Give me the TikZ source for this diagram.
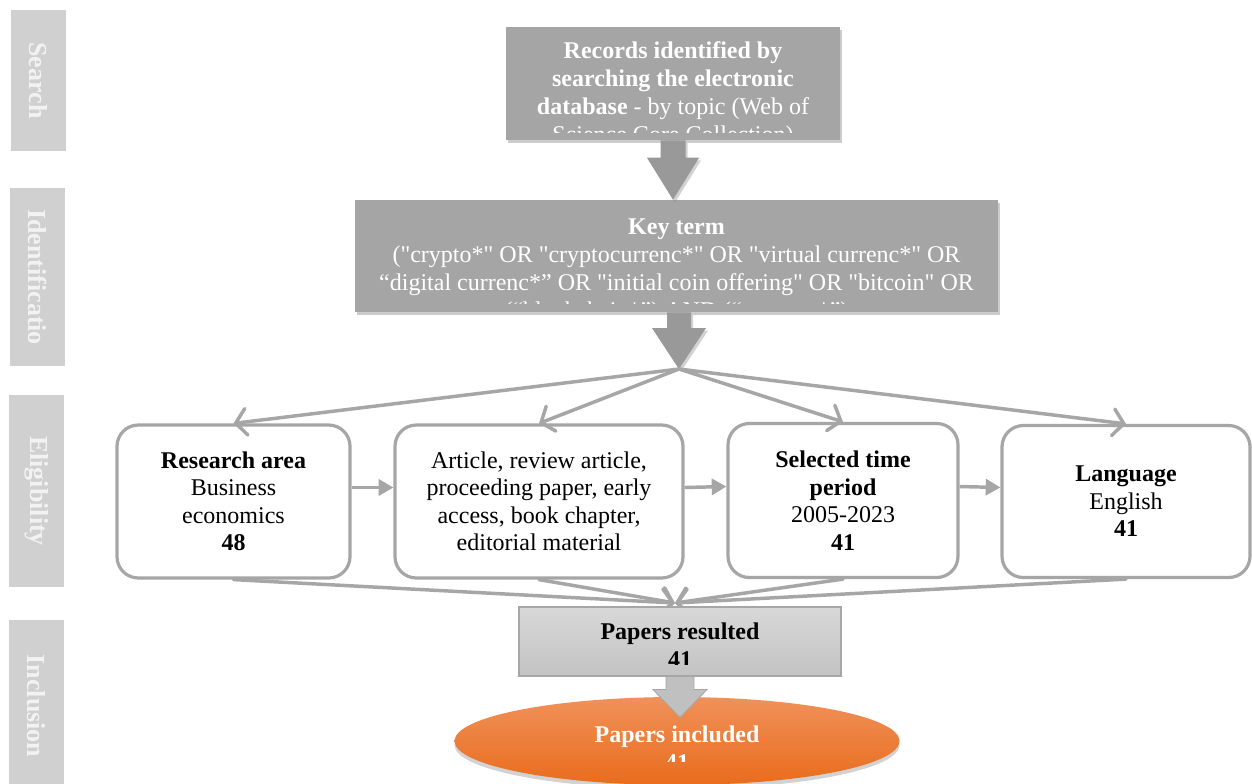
\documentclass[tikz,border=0pt]{standalone}
\usepackage{fontspec}
\setmainfont{Liberation Serif}
\usetikzlibrary{arrows.meta,shadows,shapes.geometric,calc}
\definecolor{sidegray}{HTML}{D0D0D0}
\definecolor{sidetext}{HTML}{F2F2F2}
\definecolor{boxgray}{HTML}{A5A5A5}
\definecolor{arrgray}{HTML}{999999}
\definecolor{linegray}{HTML}{A6A6A6}
\definecolor{lightarr}{HTML}{C0C0C0}
\definecolor{restop}{HTML}{D8D8D8}
\definecolor{resbot}{HTML}{C3C3C3}
\definecolor{orangetop}{HTML}{F0915A}
\definecolor{orangebot}{HTML}{E96C1C}
\def\pu{0.75pt}
\def\dq{\textquotedbl}
\begin{document}
\begin{tikzpicture}[x=0.75pt,y=-0.75pt,
  sidebox/.style={fill=sidegray,draw=none,rotate=-90,inner sep=0,text=sidetext,
    font=\fontsize{19.5}{22}\selectfont\bfseries},
  graybox/.style={fill=boxgray,draw=none,inner sep=0,
    drop shadow={shadow xshift=1.5pt,shadow yshift=-2pt,opacity=0.4}},
  whitetext/.style={text=white,align=center,inner sep=0,font=\fontsize{18}{21}\selectfont},
  blacktext/.style={text=black,align=center,inner sep=0,font=\fontsize{18}{21}\selectfont},
  roundbox/.style={draw=linegray,line width=2.4pt,rounded corners=16pt,fill=white,
    align=center,inner sep=0,font=\fontsize{18}{20.6}\selectfont},
  fanline/.style={draw=linegray,line width=2.6pt,line cap=round,
    -{Straight Barb[length=8pt,width=20pt,line cap=round]}},
  harrow/.style={draw=linegray,line width=2.6pt,-{Triangle[length=11pt,width=12pt]}},
  blockarr/.style={fill=arrgray,drop shadow={shadow xshift=1.5pt,shadow yshift=-2pt,opacity=0.35}},
]
\useasboundingbox (0,0) rectangle (1252,783);
\fill[white] (0,0) rectangle (1252,783);

% side labels
\node[sidebox,minimum width=141*\pu,minimum height=55*\pu] (s1) at (38.5,80.5) {Search};
\node[sidebox,minimum width=178*\pu,minimum height=55*\pu,text width=150*\pu,align=center] (s2) at (37.5,277) {Identificatio};
\node[sidebox,minimum width=192*\pu,minimum height=55*\pu] (s3) at (36.5,491) {Eligibility};
\node[sidebox,minimum width=172*\pu,minimum height=55*\pu] (s4) at (36.5,706) {Inclusion};

% top box
\node[graybox,minimum width=334*\pu,minimum height=113*\pu] (rec) at (673,83.5) {};
\begin{scope}
\clip (506,27) rectangle (840,132);
\node[whitetext,anchor=north] (rectext) at (673,41)
 {\textbf{Records identified by}\\\textbf{searching the electronic}\\\textbf{database} - by topic (Web of\\Science Core Collection)};
\end{scope}

% key term box
\node[graybox,minimum width=643*\pu,minimum height=112*\pu] (key) at (676.5,256) {};
\begin{scope}
\clip (355,200) rectangle (998,303);
\node[whitetext,anchor=north] (keytext) at (676.5,219)
 {\textbf{Key term}\\(\dq crypto*\dq{} OR \dq cryptocurrenc*\dq{} OR \dq virtual currenc*\dq{} OR\\“digital currenc*” OR \dq initial coin offering\dq{} OR \dq bitcoin\dq{} OR\\(“blockchain*”) AND (“econom*”)};
\end{scope}

% block arrow 1
\fill[blockarr] let \p1=(rec.south), \p2=(key.north) in
  (\x1-12.5*\pu,\y1) -- (\x1+12.5*\pu,\y1) -- (\x1+12.5*\pu,\y2+42*\pu) -- (\x1+26*\pu,\y2+42*\pu)
  -- (\x1,\y2) -- (\x1-26*\pu,\y2+42*\pu) -- (\x1-12.5*\pu,\y2+42*\pu) -- cycle;

% apex and block arrow 2
\coordinate (apex) at (679,369);
\fill[blockarr] let \p1=(key.south), \p2=(apex) in
  (\x2-12*\pu,\y1) -- (\x2+12*\pu,\y1) -- (\x2+12*\pu,\y2+41*\pu) -- (\x2+27*\pu,\y2+41*\pu)
  -- (\x2,\y2) -- (\x2-27*\pu,\y2+41*\pu) -- (\x2-12*\pu,\y2+41*\pu) -- cycle;

% eligibility boxes
\node[roundbox,minimum width=233*\pu,minimum height=153*\pu] (b1) at (233.5,501.5)
 {\textbf{Research area}\\Business\\economics\\\textbf{48}};
\node[roundbox,minimum width=288*\pu,minimum height=153*\pu] (b2) at (539,501.5)
 {Article, review article,\\proceeding paper, early\\access, book chapter,\\editorial material};
\node[roundbox,minimum width=230*\pu,minimum height=154*\pu] (b3) at (843,500.5)
 {\textbf{Selected time}\\\textbf{period}\\2005-2023\\\textbf{41}};
\node[roundbox,minimum width=248*\pu,minimum height=152*\pu] (b4) at (1126,501.5)
 {\textbf{Language}\\English\\\textbf{41}};

% fan out
\draw[fanline] (apex) -- (b1.north);
\draw[fanline] (apex) -- (b2.north);
\draw[fanline] (apex) -- (b3.north);
\draw[fanline] (apex) -- (b4.north);

% horizontal arrows
\draw[harrow] ([yshift=10.5pt]b1.east) -- ([yshift=10.5pt]b2.west);
\draw[harrow] ([yshift=10.5pt]b2.east) -- ([yshift=10.5pt]b3.west);
\draw[harrow] ([yshift=10.5pt]b3.east) -- ([yshift=10.5pt]b4.west);

% converging
\coordinate (conv) at (675,603);
\draw[fanline] (b1.south) -- (conv);
\draw[fanline] (b2.south) -- (conv);
\draw[fanline] (b3.south) -- (conv);
\draw[fanline] (b4.south) -- (conv);

% papers resulted
\node[draw=linegray,line width=0.8pt,top color=restop,bottom color=resbot,inner sep=0,
  minimum width=322*\pu,minimum height=69*\pu] (res) at (680,641.5) {};
\begin{scope}
\clip (519,607) rectangle (841,664);
\node[blacktext,anchor=north] (restext) at (680,623) {\textbf{Papers resulted}\\\textbf{41}};
\end{scope}

% papers included
\node[ellipse,top color=orangetop,bottom color=orangebot,inner sep=0,
  drop shadow={shadow xshift=0pt,shadow yshift=-3pt,opacity=0.35},
  minimum width=445*\pu,minimum height=88*\pu] (inc) at (677,741) {};
\begin{scope}
\clip (455,697) rectangle (900,761);
\node[whitetext,anchor=north] (inctext) at (677,726) {\textbf{Papers included}\\\textbf{41}};
\end{scope}

% block arrow 3
\draw[fill=lightarr,draw=linegray,line width=0.6pt] let \p1=(res.south), \p2=(inc.north) in
  (\x1-14*\pu,\y1) -- (\x1+14*\pu,\y1) -- (\x1+14*\pu,\y1-13*\pu) -- (\x1+27*\pu,\y1-13*\pu)
  -- (\x1,\y1-41*\pu) -- (\x1-27*\pu,\y1-13*\pu) -- (\x1-14*\pu,\y1-13*\pu) -- cycle;
\end{tikzpicture}
\end{document}
